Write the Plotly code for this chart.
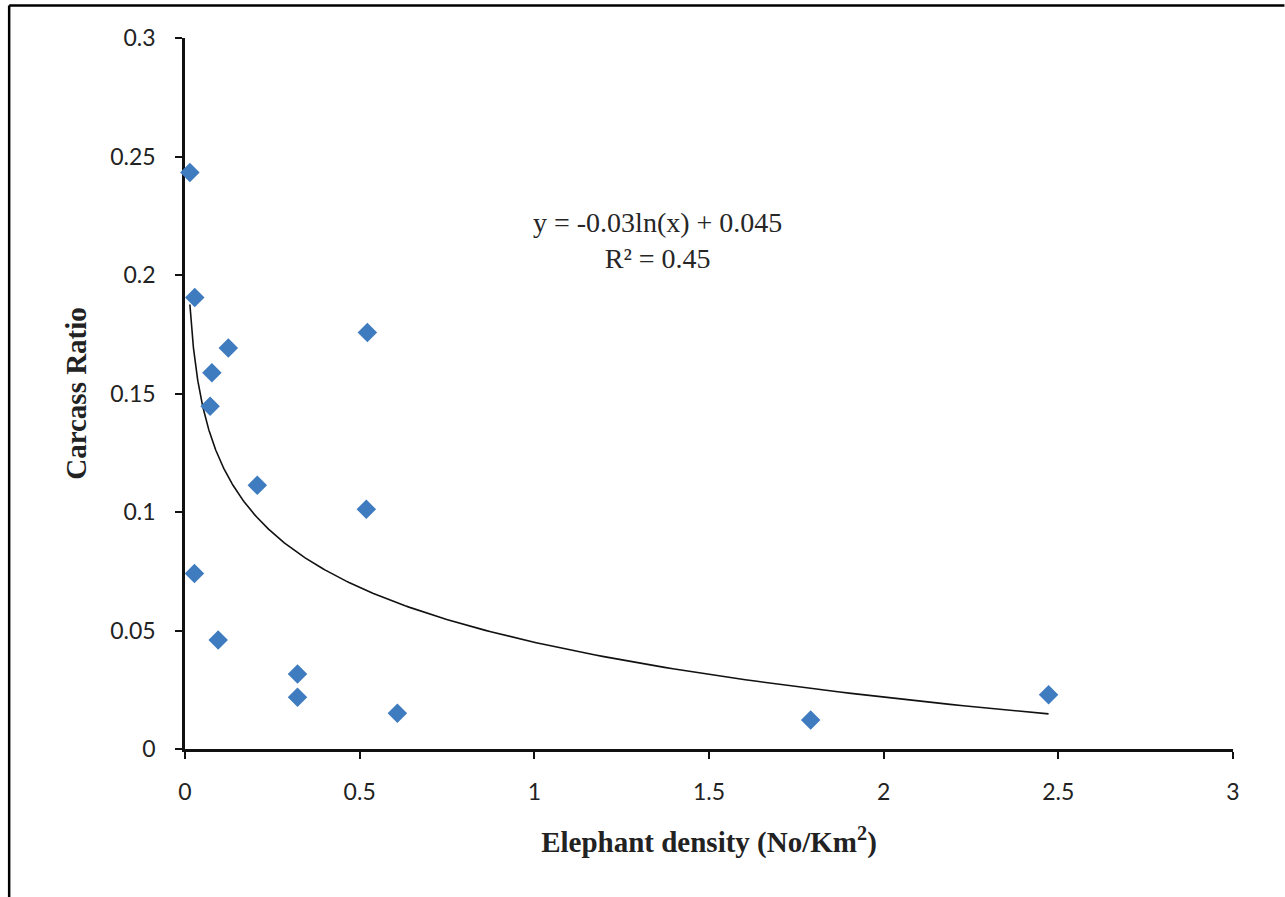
import numpy as np
import plotly.graph_objects as go

# Data
density = [0.014, 0.028, 0.124, 0.077, 0.072, 0.522, 0.207, 0.519, 0.027,
           0.095, 0.322, 0.322, 0.608, 1.791, 2.472]
carcass_ratio = [0.2433, 0.1905, 0.1692, 0.1588, 0.1446, 0.1757, 0.1113, 0.1012,
                 0.0741, 0.0460, 0.0316, 0.0218, 0.0151, 0.0122, 0.0229]
x_ticks = [0, 0.5, 1, 1.5, 2, 2.5, 3]
y_ticks = [0, 0.05, 0.1, 0.15, 0.2, 0.25, 0.3]
equation_text = "y = -0.03ln(x) + 0.045<br>R² = 0.45"

# Logarithmic trendline fitted from data
xd = np.array(density)
yd = np.array(carcass_ratio)
a, b = np.polyfit(np.log(xd), yd, 1)
xt = np.geomspace(xd.min(), xd.max(), 300)
yt = a * np.log(xt) + b

W, H = 1285, 897
L, R, T, B = 184.5, 51.5, 37.5, 148
pw, ph = W - L - R, H - T - B

fig = go.Figure()
fig.add_trace(go.Scatter(x=xt, y=yt, mode="lines",
                         line=dict(color="#111111", width=1.6),
                         hoverinfo="skip", showlegend=False))
fig.add_trace(go.Scatter(x=density, y=carcass_ratio, mode="markers",
                         marker=dict(symbol="diamond", size=15, color="#3F7BBF",
                                     line=dict(width=0)),
                         showlegend=False, cliponaxis=False))

tick_font = dict(family="Lato, Open Sans, sans-serif", size=23, color="#222222")
title_font = dict(family="Liberation Serif, Times New Roman, serif", size=29, color="#222222")

fig.update_layout(
    width=W, height=H,
    margin=dict(l=L, r=R, t=T, b=B, pad=0),
    paper_bgcolor="white", plot_bgcolor="white",
    xaxis=dict(range=[0, 3], tickvals=x_ticks, ticktext=[f"{v:g}" for v in x_ticks],
               showgrid=False, zeroline=False, showline=True, linecolor="#111111",
               linewidth=2.5, ticks="outside", ticklen=7, tickwidth=2,
               tickcolor="#111111", tickfont=tick_font, ticklabelstandoff=14,
               layer="below traces",
               title=dict(text="<b>Elephant density (No/Km<sup>2</sup>)</b>",
                          font=title_font, standoff=28)),
    yaxis=dict(range=[0, 0.3], tickvals=y_ticks, ticktext=[f"{v:g}" for v in y_ticks],
               showgrid=False, zeroline=False, showline=True, linecolor="#111111",
               linewidth=2.5, ticks="outside", ticklen=7, tickwidth=2,
               tickcolor="#111111", tickfont=tick_font, ticklabelstandoff=15,
               layer="below traces",
               title=dict(text="<b>Carcass Ratio</b>", font=title_font, standoff=16)),
    annotations=[dict(x=(657 - L) / pw, y=1 - (240 - T) / ph, xref="paper", yref="paper",
                      xanchor="center", yanchor="middle",
                      text=equation_text, showarrow=False, align="center",
                      font=dict(family="Liberation Serif, Times New Roman, serif",
                                size=28, color="#262626"))],
    shapes=[
        dict(type="line", xref="paper", yref="paper",
             x0=(8.5 - L) / pw, x1=(W - L) / pw, y0=1 + (T - 5) / ph, y1=1 + (T - 5) / ph,
             line=dict(color="black", width=2.5)),
        dict(type="line", xref="paper", yref="paper",
             x0=(8.5 - L) / pw, x1=(8.5 - L) / pw, y0=1 + (T - 5) / ph, y1=-B / ph,
             line=dict(color="black", width=2.5)),
    ],
)

fig.write_html("out.html", config={"displayModeBar": False},
               post_script="document.body.style.margin='0';document.body.style.overflow='hidden';")
